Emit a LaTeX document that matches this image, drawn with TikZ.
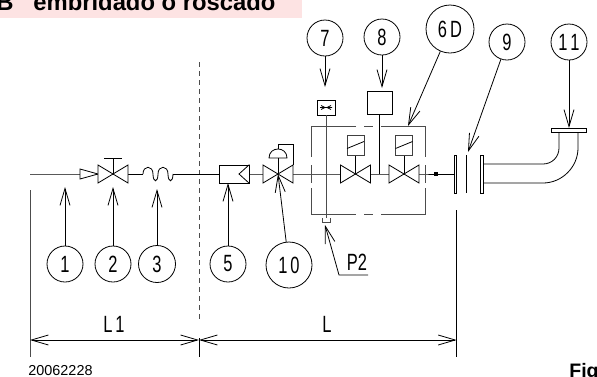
\documentclass[tikz,border=0pt]{standalone}
\usepackage{fontspec}
\setmainfont{Liberation Sans}
\newfontfamily\tagfont[FakeStretch=0.7]{Liberation Sans}
\usetikzlibrary{arrows.meta}
\definecolor{bannerpink}{HTML}{FDE3E3}
\tikzset{
  tag/.style={draw,circle,inner sep=0pt,minimum size=36pt,font=\tagfont\fontsize{23.5}{24}\selectfont},
  lbl/.style={inner sep=0pt,font=\tagfont\fontsize{23.5}{24}\selectfont},
  lead/.style={-{Straight Barb[length=17pt,width=10pt]}},
  dim/.style={{Straight Barb[length=17pt,width=10pt]}-{Straight Barb[length=17pt,width=10pt]}},
  frame/.style={draw=black!70,line width=1pt},
  valve/.pic={\filldraw[fill=white](-15,-9)--(15,9)--(15,-9)--(-15,9)--cycle;},
  coil/.pic={\filldraw[fill=white,draw=black!75,line width=1pt](-8.5,-10)rectangle(8.5,10);\draw(-8.5,3.5)--(8.5,-3.5);}
}
\begin{document}
\begin{tikzpicture}[x=1pt,y=-1pt,line width=.8pt]
\useasboundingbox (0,0)rectangle(597,376);
\fill[bannerpink](0,0)rectangle(302,17.5);
\node[inner sep=0pt,anchor=base west,font=\fontsize{23.8}{24}\selectfont\bfseries](banner) at (-4,10){B\ \ \ embridado o roscado};
\node[inner sep=0pt,anchor=base west,font=\fontsize{19.5}{20}\selectfont\bfseries](fig) at (569,377.5){Fig};
\node[inner sep=0pt,font=\fontsize{14.4}{15}\selectfont](stamp) at (60.5,371){20062228};

\coordinate (in) at (30,174);
\coordinate (v2) at (113,174);
\coordinate (v10) at (278,174);
\coordinate (va) at (355.5,174);
\coordinate (vb) at (404,174);
\coordinate (end) at (454,174);
\coordinate (belin) at (143,174);
\coordinate (belout) at (173,174);
\coordinate (port) at (326,218);
\coordinate (jct) at (379.5,174);

\draw[black!70,line width=1pt,dash pattern=on 5pt off 4pt](199,62)--(199,322);
\draw (in)--(v2)--(belin);
\draw (belin)..controls(143,165)and(153,165)..(153,174)..controls(153,183)and(158,183)..(158,174)
  ..controls(158,165)and(168,165)..(168,174)..controls(168,183)and(173,183)..(belout);
\draw (belout)--(v10)--(va)--(vb)--(end);

% box round the two solenoid valves
\draw[frame](356,126)--(311,126)--(311,157);
\draw[frame](311,165)--(311,183);
\draw[frame](311,188)--(311,214)--(356,214);
\draw[frame](364,126)--(373,126);
\draw[frame](364,214)--(373,214);
\draw[frame](381,126)--(425,126)--(425,157);
\draw[frame](425,165)--(425,183);
\draw[frame](425,188)--(425,214)--(381,214);

\filldraw[fill=white](80,169)--(98,174)--(80,179)--cycle;
\pic at (v2) {valve};
\draw (v2)--(113,158);
\draw (104,158)--(122,158);

\node[draw,fill=white,minimum width=30pt,minimum height=18pt,inner sep=0pt](strainer) at (234,174){};
\draw (strainer.north east)--(239,174)--(strainer.south east);

\draw (v10)--(278,144)--(293,144)--(293,165);
\filldraw[fill=white](269,158)..controls(269,146)and(287,146)..(287,158)--cycle;
\pic at (v10) {valve};

\node[draw,minimum width=18pt,minimum height=15pt,inner sep=0pt](b7) at (326,107.5){};
\draw[black!70,line width=1pt](b7)--(port);
\draw (321,105.5)--(325,107.5)--(321,109.5) (331,105.5)--(327,107.5)--(331,109.5) (320,107.5)--(332,107.5);
\draw[black!70](322,218)--(322,222)--(330,222)--(330,218);
\node[draw,minimum width=25pt,minimum height=23pt,inner sep=0pt](b8) at (379.5,102.5){};
\draw (b8)--(jct);

\draw (va)--(355.5,145) (vb)--(404,145);
\pic at (355.5,145) {coil};
\pic at (404,145) {coil};
\pic at (va) {valve};
\pic at (vb) {valve};
\fill (434,172)rectangle(438,176);

% flanges and bend
\filldraw[fill=white](454,155)rectangle(456.7,193);
\draw (466,155)--(466,193);
\filldraw[fill=white](480,155)rectangle(483,193);
\draw (483,164)--(543,164)..controls(552,164)and(559,157)..(559,148)--(559,130);
\draw (483,183)--(543,183)..controls(562,183)and(578,167)..(578,148)--(578,130);
\filldraw[fill=white](551,128)rectangle(586,132);

\node[tag] (c1) at (65,264){1};
\node[tag] (c2) at (113,264){2};
\node[tag,minimum size=37pt] (c3) at (157,264){3};
\node[tag] (c5) at (228,264){5};
\node[tag,minimum size=46pt] (c10) at (289,265){1\hspace{3pt}0};
\node[tag] (c7) at (325,38){7};
\node[tag] (c8) at (382,37){8};
\node[tag,minimum size=48pt] (c6d) at (450,29){6\hspace{3pt}D};
\node[tag] (c9) at (507,42){9};
\node[tag] (c11) at (569,42){1\hspace{3pt}1};

\coordinate (t1) at (65,187);
\coordinate (t2) at (113,187);
\coordinate (t3) at (157,189);
\coordinate (t5) at (228,183);
\coordinate (t7) at (325,87);
\coordinate (t8) at (382,88);
\coordinate (t6d) at (408,126);
\coordinate (t9) at (468,152);
\coordinate (t11) at (569,128);
\coordinate (tp2) at (325,225);
\coordinate (p2end) at (339,275);
\coordinate (p2out) at (368,275);
\draw[lead](c1)--(t1);
\draw[lead](c2)--(t2);
\draw[lead](c3)--(t3);
\draw[lead](c5)--(t5);
\draw[lead](c10)--(v10);
\draw[lead](c7)--(t7);
\draw[lead](c8)--(t8);
\draw[lead](c6d)--(t6d);
\draw[lead](c9)--(t9);
\draw[lead](c11)--(t11);
\draw[lead](p2out)--(p2end)--(tp2);
\node[lbl,anchor=base] (p2) at (357,270.5){P2};

% dimensions
\coordinate (d0) at (30,340);
\coordinate (d1) at (199,340);
\coordinate (d2) at (456.6,340);
\draw[black!70,line width=1pt](30,190)--(30,357);
\draw (199,338)--(199,357);
\draw (456.6,210)--(456.6,357);
\draw[dim](d0)--(d1);
\draw[dim](d1)--(d2);
\node[lbl] (l1) at (114,324){L\hspace{3pt}1};
\node[lbl] (l) at (327,324){L};
\end{tikzpicture}
\end{document}
